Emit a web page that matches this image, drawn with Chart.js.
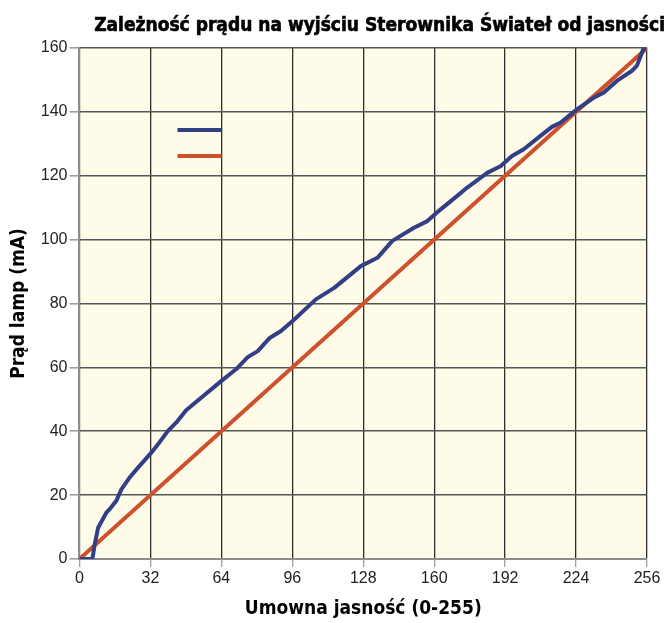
<!DOCTYPE html>
<html>
<head>
<meta charset="utf-8">
<script src="https://cdn.jsdelivr.net/npm/chart.js@4.4.1/dist/chart.umd.min.js"></script>
<style>
  html, body { margin: 0; padding: 0; background: #ffffff; }
  #wrap { width: 668px; height: 623px; }
</style>
</head>
<body>
<div id="wrap"><canvas id="c" width="668" height="623"></canvas></div>
<script>
// Measured lamp current vs. brightness setting
const brightness = [0, 5.8, 6.9, 8.4, 12.1, 13.6, 16.6, 18.9, 22.6, 26.4, 32.4, 35.4, 39.9, 43.6, 48.1,
  63.9, 70.6, 75.9, 80.4, 85.6, 90.9, 96.9, 106.6, 114.9, 126.9, 134.4, 141.1, 150.9, 156.9,
  161.4, 170.4, 174.9, 183.9, 189.9, 195.1, 200.4, 207.8, 213.1, 216.9, 224.4, 231.9, 236.4, 242.4,
  249.1, 251.4, 252.8, 254.3, 255.6];
const currentMeasured = [0, 0, 4.7, 9.8, 14.5, 15.6, 18.2, 21.8, 25.5, 28.6, 33.3, 35.9, 40.1, 42.7, 46.6,
  55.7, 59.4, 63.2, 65.1, 69.1, 71.4, 75.0, 81.3, 84.9, 91.7, 94.3, 99.6, 103.7, 105.8,
  108.6, 113.7, 116.3, 120.9, 123.0, 126.2, 128.3, 132.4, 135.3, 136.6, 140.8, 144.4, 146.0, 149.7,
  152.8, 154.4, 156.9, 159.6, 160];

// Ideal linear response
const idealBrightness = [0, 256];
const idealCurrent = [0, 160];

// Axis ticks
const xTicks = [0, 32, 64, 96, 128, 160, 192, 224, 256];
const yTicks = [0, 20, 40, 60, 80, 100, 120, 140, 160];

const titleText = 'Zależność prądu na wyjściu Sterownika Świateł od jasności';
const xTitle = 'Umowna jasność (0-255)';
const yTitle = 'Prąd lamp (mA)';

const BLUE = '#323e86';
const ORANGE = '#cf512b';
const boldFont = '"DejaVu Sans Condensed", "DejaVu Sans", sans-serif';

const toPoints = (xs, ys) => xs.map((x, i) => ({ x: x, y: ys[i] }));

// cream plot background
const plotBg = {
  id: 'plotBg',
  beforeDraw(chart) {
    const { ctx, chartArea: a } = chart;
    ctx.save();
    ctx.fillStyle = '#fefce9';
    ctx.fillRect(a.left, a.top, a.right - a.left, a.bottom - a.top);
    ctx.restore();
  }
};

// heading, right-aligned near the canvas edge
const heading = {
  id: 'heading',
  afterDraw(chart) {
    const ctx = chart.ctx;
    ctx.save();
    ctx.font = 'bold 19px ' + boldFont;
    ctx.fillStyle = '#000000';
    ctx.strokeStyle = '#000000';
    ctx.lineWidth = 0.6;
    ctx.textAlign = 'right';
    ctx.textBaseline = 'alphabetic';
    ctx.fillText(titleText, chart.width - 3, 31);
    ctx.strokeText(titleText, chart.width - 3, 31);
    ctx.restore();
  }
};

// legend keys drawn inside the plot, without labels
const innerLegend = {
  id: 'innerLegend',
  afterDatasetsDraw(chart) {
    const { ctx, chartArea: a } = chart;
    const x0 = a.left + 98, len = 44;
    const rows = [a.top + 82, a.top + 108];
    ctx.save();
    chart.data.datasets.forEach((ds, i) => {
      ctx.strokeStyle = ds.borderColor;
      ctx.lineWidth = 4;
      ctx.beginPath();
      ctx.moveTo(x0, rows[i]);
      ctx.lineTo(x0 + len, rows[i]);
      ctx.stroke();
    });
    ctx.restore();
  }
};

new Chart(document.getElementById('c'), {
  type: 'line',
  data: {
    datasets: [
      {
        label: '',
        data: toPoints(brightness, currentMeasured),
        borderColor: BLUE,
        backgroundColor: BLUE,
        borderWidth: 4,
        pointRadius: 0,
        tension: 0,
        borderJoinStyle: 'round'
      },
      {
        label: '',
        data: toPoints(idealBrightness, idealCurrent),
        borderColor: ORANGE,
        backgroundColor: ORANGE,
        borderWidth: 4,
        pointRadius: 0,
        tension: 0
      }
    ]
  },
  options: {
    responsive: false,
    animation: false,
    devicePixelRatio: 1,
    layout: { padding: { left: 8, right: 21, top: 48, bottom: 3 } },
    plugins: {
      legend: { display: false },
      tooltip: { enabled: false },
      title: { display: false }
    },
    scales: {
      x: {
        type: 'linear',
        min: 0,
        max: 256,
        afterBuildTicks(scale) { scale.ticks = xTicks.map(v => ({ value: v })); },
        ticks: {
          color: '#222222',
          font: { family: '"Liberation Sans", Arial, sans-serif', size: 16 },
          padding: 2,
          maxRotation: 0
        },
        grid: {
          color: ctx => (ctx.tick && ctx.tick.value === 0) ? '#8c8c8c' : '#2e2e2e',
          lineWidth: 1.3,
          tickColor: '#a0a0a0',
          tickLength: 8,
          drawTicks: true
        },
        border: { display: true, color: '#8c8c8c', width: 2 },
        title: {
          display: true,
          text: xTitle,
          color: '#000000',
          font: { family: boldFont, size: 19, weight: 'bold' },
          padding: { top: 7, bottom: 0 }
        }
      },
      y: {
        type: 'linear',
        min: 0,
        max: 160,
        afterBuildTicks(scale) { scale.ticks = yTicks.map(v => ({ value: v })); },
        ticks: {
          color: '#222222',
          font: { family: '"Liberation Sans", Arial, sans-serif', size: 16 },
          padding: 2
        },
        grid: {
          color: ctx => (ctx.tick && ctx.tick.value === 0) ? '#8c8c8c' : '#555555',
          lineWidth: 1.6,
          tickColor: '#a0a0a0',
          tickLength: 10,
          drawTicks: true
        },
        border: { display: true, color: '#8c8c8c', width: 2 },
        title: {
          display: true,
          text: yTitle,
          color: '#000000',
          font: { family: boldFont, size: 19, weight: 'bold' },
          padding: { top: 0, bottom: 8 }
        }
      }
    }
  },
  plugins: [plotBg, heading, innerLegend]
});
</script>
</body>
</html>
